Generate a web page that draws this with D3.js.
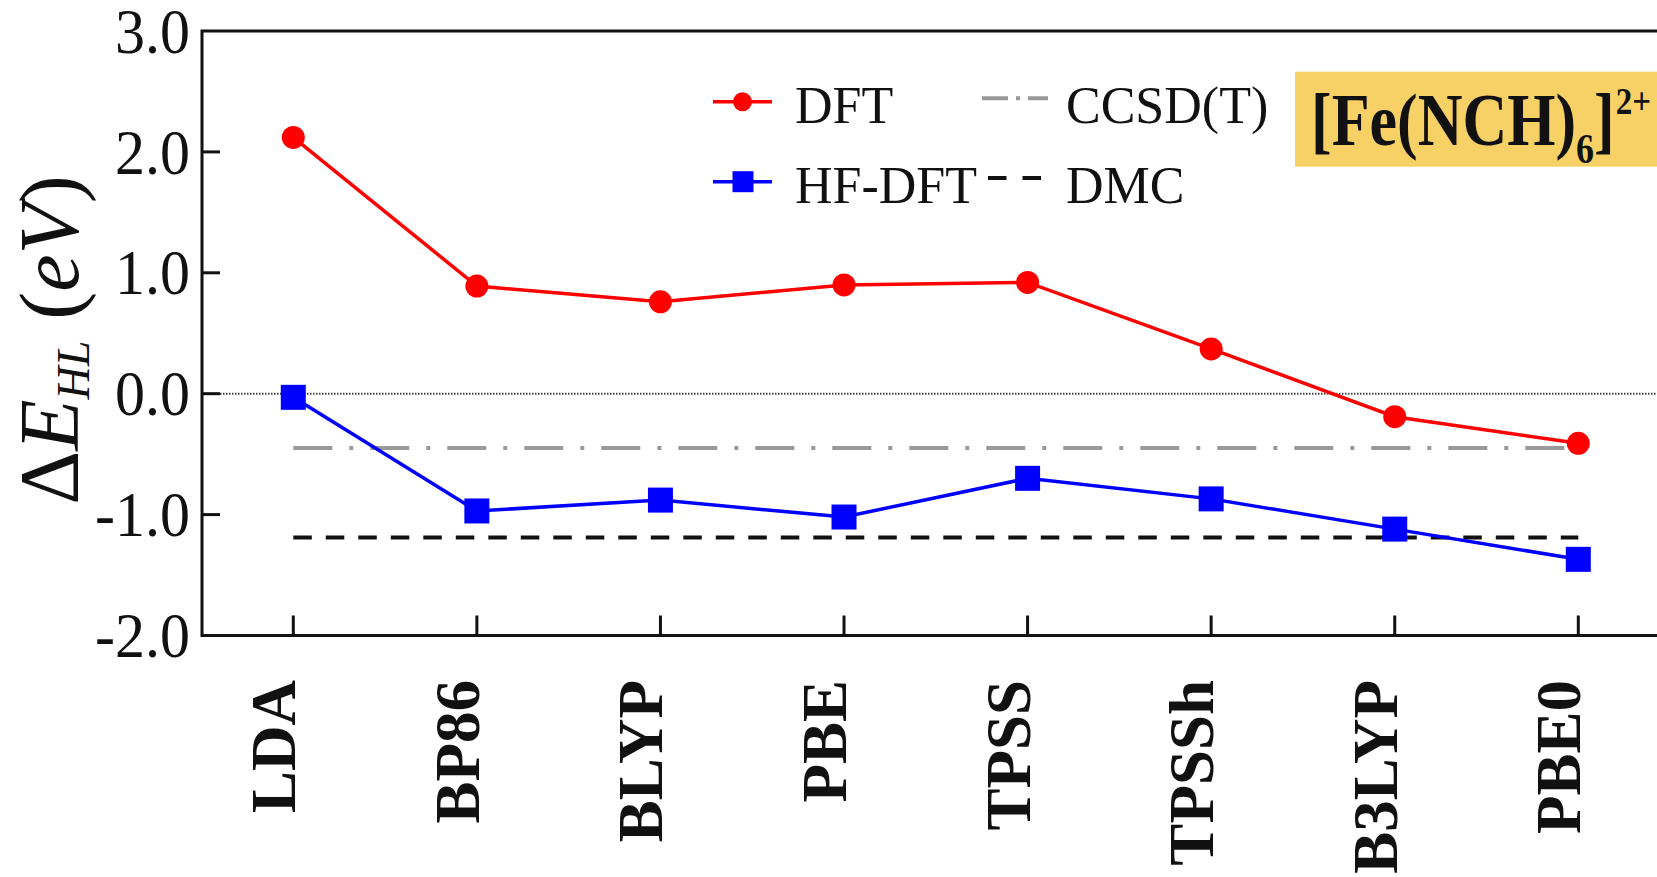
<!DOCTYPE html>
<html>
<head>
<meta charset="utf-8">
<script src="https://cdn.jsdelivr.net/npm/d3@7"></script>
<style>
  body { margin: 0; background: #fff; }
  svg { display: block; }
  text { font-family: "Liberation Serif", "Times New Roman", serif; }
</style>
</head>
<body>
<div id="chart"></div>
<script>
// data (eV)
const functionals = ['LDA', 'BP86', 'BLYP', 'PBE', 'TPSS', 'TPSSh', 'B3LYP', 'PBE0'];
const dftValues   = [2.12, 0.89, 0.76, 0.90, 0.92, 0.37, -0.19, -0.41];
const hfDftValues = [-0.03, -0.97, -0.88, -1.02, -0.70, -0.87, -1.12, -1.37];
const ccsdtValue = -0.45;
const dmcValue = -1.19;
const yTicks = [3, 2, 1, 0, -1, -2];

const width = 1657, height = 877;
const plotLeft = 202, plotTop = 31, plotBottom = 635.5;

const svg = d3.select('#chart').append('svg')
  .attr('width', width)
  .attr('height', height);

const x = d3.scalePoint()
  .domain(functionals)
  .range([293.3, 1578.3]);

const y = d3.scaleLinear()
  .domain([-2, 3])
  .range([plotBottom, plotTop]);

// zero reference line (dotted)
svg.append('line')
  .attr('x1', plotLeft).attr('x2', width)
  .attr('y1', y(0)).attr('y2', y(0))
  .attr('stroke', '#444')
  .attr('stroke-width', 2)
  .attr('stroke-dasharray', '1.5,1.5');

// reference lines
const xFirst = x(functionals[0]), xLast = x(functionals[functionals.length - 1]);
svg.append('line')
  .attr('x1', xFirst).attr('x2', xLast)
  .attr('y1', y(ccsdtValue)).attr('y2', y(ccsdtValue))
  .attr('stroke', '#999')
  .attr('stroke-width', 4)
  .attr('stroke-dasharray', '39,17,4,17');

svg.append('line')
  .attr('x1', xFirst).attr('x2', xLast)
  .attr('y1', y(dmcValue)).attr('y2', y(dmcValue))
  .attr('stroke', '#111')
  .attr('stroke-width', 4)
  .attr('stroke-dasharray', '18.5,14');

// series
const line = d3.line()
  .x((d, i) => x(functionals[i]))
  .y(d => y(d));

svg.append('path')
  .datum(hfDftValues)
  .attr('d', line)
  .attr('fill', 'none')
  .attr('stroke', '#0000ff')
  .attr('stroke-width', 3.5);

svg.selectAll('.hf')
  .data(hfDftValues)
  .enter().append('rect')
  .attr('class', 'hf')
  .attr('x', (d, i) => x(functionals[i]) - 12.5)
  .attr('y', d => y(d) - 12.5)
  .attr('width', 25)
  .attr('height', 25)
  .attr('fill', '#0000ff');

svg.append('path')
  .datum(dftValues)
  .attr('d', line)
  .attr('fill', 'none')
  .attr('stroke', '#ff0000')
  .attr('stroke-width', 3.5);

svg.selectAll('.dft')
  .data(dftValues)
  .enter().append('circle')
  .attr('class', 'dft')
  .attr('cx', (d, i) => x(functionals[i]))
  .attr('cy', d => y(d))
  .attr('r', 11.5)
  .attr('fill', '#ff0000');

// frame: left, top, bottom (right side runs off the picture)
svg.append('path')
  .attr('d', `M${width},${plotTop}H${plotLeft}V${plotBottom}H${width}`)
  .attr('fill', 'none')
  .attr('stroke', '#111')
  .attr('stroke-width', 3);

// y ticks + labels
svg.selectAll('.ytick')
  .data(yTicks.filter(d => d > -2 && d < 3))
  .enter().append('line')
  .attr('x1', plotLeft).attr('x2', plotLeft + 18)
  .attr('y1', d => y(d)).attr('y2', d => y(d))
  .attr('stroke', '#111')
  .attr('stroke-width', 3);

svg.selectAll('.ylabel')
  .data(yTicks)
  .enter().append('text')
  .attr('transform', d => `translate(190,${y(d)}) scale(1,1.06)`)
  .attr('dy', '0.34em')
  .attr('text-anchor', 'end')
  .attr('font-size', 60)
  .attr('fill', '#111')
  .text(d => d3.format('.1f')(d).replace('−', '-'));

// x ticks + labels
svg.selectAll('.xtick')
  .data(functionals)
  .enter().append('line')
  .attr('x1', d => x(d)).attr('x2', d => x(d))
  .attr('y1', plotBottom).attr('y2', plotBottom - 20)
  .attr('stroke', '#111')
  .attr('stroke-width', 3);

svg.selectAll('.xlabel')
  .data(functionals)
  .enter().append('text')
  .attr('transform', d => `translate(${x(d) + 2},680) rotate(-90)`)
  .attr('text-anchor', 'end')
  .attr('font-size', 63)
  .attr('font-weight', 'bold')
  .attr('fill', '#111')
  .text(d => d);

// y axis title: ΔE_HL (eV)
const yTitle = svg.append('text')
  .attr('transform', 'translate(78,340) rotate(-90)')
  .attr('text-anchor', 'middle')
  .attr('font-size', 84)
  .attr('fill', '#111');
yTitle.append('tspan').text('Δ');
yTitle.append('tspan').attr('font-style', 'italic').text('E');
yTitle.append('tspan').attr('font-style', 'italic').attr('font-size', 46).attr('dy', 11).text('HL');
yTitle.append('tspan').attr('dy', -11).text(' (');
yTitle.append('tspan').attr('font-style', 'italic').text('eV');
yTitle.append('tspan').text(')');

// legend
const legend = svg.append('g');
legend.append('line')
  .attr('x1', 713).attr('x2', 772).attr('y1', 101.7).attr('y2', 101.7)
  .attr('stroke', '#ff0000').attr('stroke-width', 3.5);
legend.append('circle')
  .attr('cx', 742.5).attr('cy', 101.7).attr('r', 9.5)
  .attr('fill', '#ff0000');
legend.append('text')
  .attr('x', 795).attr('y', 123).attr('font-size', 52).attr('fill', '#111')
  .text('DFT');

legend.append('line')
  .attr('x1', 713).attr('x2', 772).attr('y1', 181.7).attr('y2', 181.7)
  .attr('stroke', '#0000ff').attr('stroke-width', 3.5);
legend.append('rect')
  .attr('x', 732.5).attr('y', 171.2).attr('width', 21).attr('height', 21)
  .attr('fill', '#0000ff');
legend.append('text')
  .attr('x', 795).attr('y', 203).attr('font-size', 52).attr('fill', '#111')
  .text('HF-DFT');

legend.append('line')
  .attr('x1', 982).attr('x2', 1048).attr('y1', 98.3).attr('y2', 98.3)
  .attr('stroke', '#999').attr('stroke-width', 4)
  .attr('stroke-dasharray', '26,8,4,8');
legend.append('text')
  .attr('x', 1066).attr('y', 123).attr('font-size', 52).attr('fill', '#111')
  .text('CCSD(T)');

legend.append('line')
  .attr('x1', 988).attr('x2', 1041).attr('y1', 178).attr('y2', 178)
  .attr('stroke', '#111').attr('stroke-width', 4)
  .attr('stroke-dasharray', '18.5,16');
legend.append('text')
  .attr('x', 1066).attr('y', 203).attr('font-size', 52).attr('fill', '#111')
  .text('DMC');

// complex label box
svg.append('rect')
  .attr('x', 1295).attr('y', 71.7)
  .attr('width', width - 1295).attr('height', 95)
  .attr('fill', '#f8d166');

const boxText = svg.append('text')
  .attr('transform', 'translate(1311,145) scale(1,1.18)')
  .attr('font-size', 62)
  .attr('font-weight', 'bold')
  .attr('fill', '#111');
boxText.append('tspan').text('[Fe(NCH)');
boxText.append('tspan').attr('font-size', 36).attr('dy', 15).text('6');
boxText.append('tspan').attr('dy', -15).text(']');
boxText.append('tspan').attr('font-size', 33).attr('dy', -26).attr('dx', 1).text('2+');
</script>
</body>
</html>
